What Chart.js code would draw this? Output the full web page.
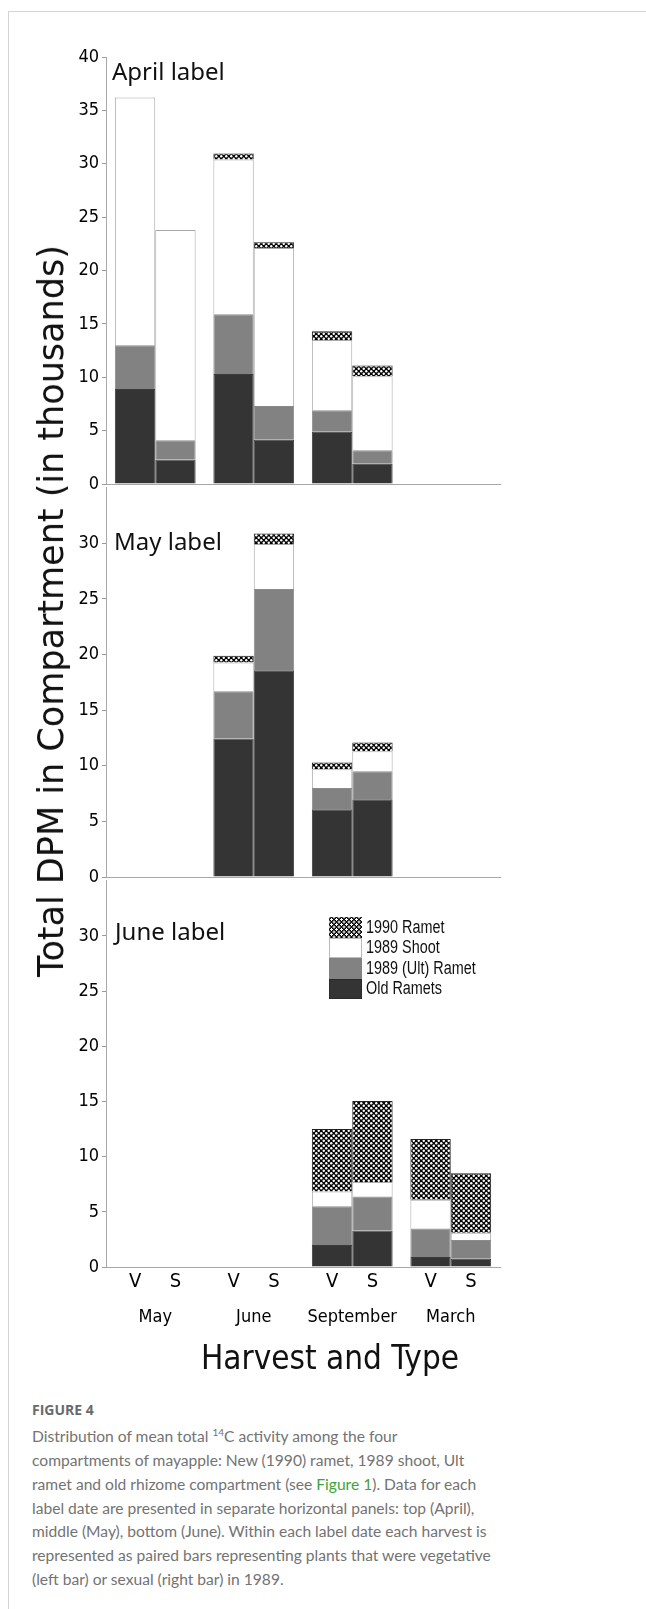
<!DOCTYPE html>
<html>
<head>
<meta charset="utf-8">
<script src="https://cdn.jsdelivr.net/npm/chart.js@4.4.0/dist/chart.umd.min.js"></script>
<style>
  body { margin: 0; background: #fff; }
  #page { position: relative; width: 646px; height: 1609px; overflow: hidden; background: #fff; }
  #frame { position: absolute; left: 8px; top: 11px; right: 0; bottom: 0; border-left: 1px solid #d4d4d4; border-top: 1px solid #d4d4d4; }
  canvas { position: absolute; left: 0; }
  .panel { position: absolute; font: 24px "Noto Sans", sans-serif; color: #111; white-space: nowrap; line-height: 1; }
  #ytitle { position: absolute; left: 51px; top: 611px; transform: translate(-50%, -50%) rotate(-90deg);
            font: 35px "DejaVu Sans", sans-serif; color: #111; white-space: nowrap; }
  #xtitle { position: absolute; left: 330px; top: 1357px; transform: translate(-50%, -50%);
            font: 33px "DejaVu Sans Condensed", "DejaVu Sans", sans-serif; color: #111; white-space: nowrap; }
  #legend { position: absolute; left: 329px; top: 917px; }
  .row { display: flex; align-items: center; height: 20.5px; }
  .sw { width: 33px; height: 20.5px; box-sizing: border-box; flex: none; }
  .lt { margin-left: 4px; font: 18px "Liberation Sans", sans-serif; color: #111; transform: scaleX(0.8); transform-origin: left center; white-space: nowrap; }
  #caption { position: absolute; left: 32px; top: 1400px; color: #737373; white-space: nowrap; }
  #caption .fig { font: bold 14px "Open Sans", sans-serif; color: #6a6a6a; margin-bottom: 2px; }
  #caption .txt { font: 15.6px Lato, sans-serif; line-height: 23.8px; }
  #caption a { color: #3aa53a; text-decoration: none; }
</style>
</head>
<body>
<div id="page">
  <div id="frame"></div>
  <canvas id="c1" width="520" height="458" style="top:40px"></canvas>
  <canvas id="c2" width="520" height="417" style="top:474px"></canvas>
  <canvas id="c3" width="520" height="520" style="top:867px"></canvas>
  <div class="panel" style="left:112px; top:59px">April label</div>
  <div class="panel" style="left:114px; top:529px">May label</div>
  <div class="panel" style="left:115px; top:919px">June label</div>
  <div id="ytitle">Total DPM in Compartment (in thousands)</div>
  <div id="xtitle">Harvest and Type</div>
  <div id="legend"></div>
  <div id="caption">
    <div class="fig">FIGURE 4</div>
    <div class="txt">
      Distribution of mean total <sup style="font-size:10px">14</sup>C activity among the four<br>
      compartments of mayapple: New (1990) ramet, 1989 shoot, Ult<br>
      ramet and old rhizome compartment (see <a>Figure 1</a>). Data for each<br>
      label date are presented in separate horizontal panels: top (April),<br>
      middle (May), bottom (June). Within each label date each harvest is<br>
      represented as paired bars representing plants that were vegetative<br>
      (left bar) or sexual (right bar) in 1989.
    </div>
  </div>
</div>
<script>
// harvests along x, two bars per harvest (vegetative / sexual in 1989)
const harvests = ['May', 'June', 'September', 'March'];
const plantTypes = ['V', 'S'];
const compartments = ['Old Ramets', '1989 (Ult) Ramet', '1989 Shoot', '1990 Ramet'];

// April label panel (thousands of DPM, segment heights)
const aprilOldV    = [8.9, 10.3, 4.9, 0];
const aprilUltV    = [4.1, 5.6, 2.0, 0];
const aprilShootV  = [23.2, 14.5, 6.6, 0];
const aprilRametV  = [0, 0.55, 0.8, 0];
const aprilOldS    = [2.3, 4.15, 1.9, 0];
const aprilUltS    = [1.8, 3.15, 1.25, 0];
const aprilShootS  = [19.7, 14.8, 6.95, 0];
const aprilRametS  = [0, 0.55, 1.0, 0];

// May label panel
const mayOldV    = [0, 12.45, 6.1, 0];
const mayUltV    = [0, 4.25, 1.9, 0];
const mayShootV  = [0, 2.6, 1.7, 0];
const mayRametV  = [0, 0.6, 0.6, 0];
const mayOldS    = [0, 18.6, 7.0, 0];
const mayUltS    = [0, 7.3, 2.5, 0];
const mayShootS  = [0, 4.05, 1.8, 0];
const mayRametS  = [0, 0.95, 0.8, 0];

// June label panel
const juneOldV    = [0, 0, 2.0, 0.9];
const juneUltV    = [0, 0, 3.5, 2.6];
const juneShootV  = [0, 0, 1.35, 2.6];
const juneRametV  = [0, 0, 5.65, 5.5];
const juneOldS    = [0, 0, 3.3, 0.75];
const juneUltS    = [0, 0, 3.1, 1.7];
const juneShootS  = [0, 0, 1.3, 0.65];
const juneRametS  = [0, 0, 7.35, 5.4];

const yTicks40 = [0, 5, 10, 15, 20, 25, 30, 35, 40];
const yTicks35 = [0, 5, 10, 15, 20, 25, 30];

// dotted fill for the 1990 ramet
function dotPattern() {
  const c = document.createElement('canvas');
  c.width = 5; c.height = 5;
  const g = c.getContext('2d');
  g.fillStyle = '#050505';
  g.fillRect(0, 0, 5, 5);
  g.fillStyle = '#fff';
  [[1.25, 1.25], [3.75, 3.75]].forEach(p => {
    g.beginPath();
    g.arc(p[0], p[1], 1.2, 0, Math.PI * 2);
    g.fill();
  });
  return g.createPattern(c, 'repeat');
}
const rametFill = dotPattern();

const looks = [
  { bg: '#343434', border: '#3c3c3c' },
  { bg: '#828282', border: '#8a8a8a' },
  { bg: '#ffffff', border: '#a8a8a8' },
  { bg: rametFill, border: '#222' }
];

function buildSets(v, s) {
  const out = [];
  [v, s].forEach((group, gi) => {
    group.forEach((vals, ci) => {
      out.push({
        label: compartments[ci],
        data: vals,
        stack: plantTypes[gi],
        backgroundColor: looks[ci].bg,
        borderColor: looks[ci].border,
        borderWidth: ctx => (ctx.raw ? 1 : 0),
        barPercentage: 1,
        categoryPercentage: 0.82
      });
    });
  });
  return out;
}

const tickFont = { family: '"DejaVu Sans Condensed", sans-serif', size: 18 };

function yAxis(max, list) {
  return {
    stacked: true,
    min: 0,
    max: max,
    afterBuildTicks: sc => { sc.ticks = list.map(v => ({ value: v })); },
    afterFit: sc => { sc.width = 106; },
    ticks: { font: tickFont, color: '#000', padding: 3 },
    grid: { drawOnChartArea: false, drawTicks: true, tickLength: 4, color: '#9a9a9a' },
    border: { display: true, color: '#a8a8a8', width: 1 }
  };
}

// V / S under each bar of the bottom panel
const typeLabels = {
  id: 'typeLabels',
  afterDraw(chart) {
    const ctx = chart.ctx;
    const area = chart.chartArea;
    ctx.save();
    ctx.font = '20px "DejaVu Sans Condensed", sans-serif';
    ctx.fillStyle = '#000';
    ctx.textAlign = 'center';
    ctx.textBaseline = 'middle';
    [0, 4].forEach((di, k) => {
      chart.getDatasetMeta(di).data.forEach(bar => {
        ctx.fillText(plantTypes[k], bar.x, area.bottom + 15);
      });
    });
    ctx.restore();
  }
};

function makeChart(id, sets, yMax, yList, pad, showX) {
  return new Chart(document.getElementById(id), {
    type: 'bar',
    data: { labels: harvests, datasets: sets },
    options: {
      responsive: false,
      animation: false,
      layout: { padding: pad },
      plugins: { legend: { display: false }, tooltip: { enabled: false } },
      scales: {
        x: {
          stacked: true,
          afterFit: sc => { sc.height = showX ? 120 : 0; },
          ticks: {
            display: showX,
            font: { family: '"DejaVu Sans Condensed", "DejaVu Sans", sans-serif', size: 18 },
            color: '#000',
            padding: 32
          },
          grid: { display: false },
          border: { display: true, color: '#a8a8a8', width: 1 }
        },
        y: yAxis(yMax, yList)
      }
    },
    plugins: showX ? [typeLabels] : []
  });
}

makeChart('c1', buildSets([aprilOldV, aprilUltV, aprilShootV, aprilRametV], [aprilOldS, aprilUltS, aprilShootS, aprilRametS]),
  40, yTicks40, { top: 17, bottom: 14, right: 20, left: 0 }, false);
makeChart('c2', buildSets([mayOldV, mayUltV, mayShootV, mayRametV], [mayOldS, mayUltS, mayShootS, mayRametS]),
  35, yTicks35, { top: 10, bottom: 14, right: 20, left: 0 }, false);
makeChart('c3', buildSets([juneOldV, juneUltV, juneShootV, juneRametV], [juneOldS, juneUltS, juneShootS, juneRametS]),
  35, yTicks35, { top: 10, bottom: 0, right: 20, left: 0 }, true);

// legend, top entry first as in the figure
const legend = document.getElementById('legend');
const swatchCss = [
  'background:#343434; border:1px solid #2a2a2a;',
  'background:#828282;',
  'background:#fff; border:1px solid #bbb;',
  'background: radial-gradient(circle, #fff 0 1.1px, transparent 1.4px) 0 0/5px 5px, radial-gradient(circle, #fff 0 1.1px, transparent 1.4px) 2.5px 2.5px/5px 5px, #050505;'
];
[3, 2, 1, 0].forEach(ci => {
  const row = document.createElement('div');
  row.className = 'row';
  row.innerHTML = '<div class="sw" style="' + swatchCss[ci] + '"></div><div class="lt">' + compartments[ci] + '</div>';
  legend.appendChild(row);
});
</script>
</body>
</html>
